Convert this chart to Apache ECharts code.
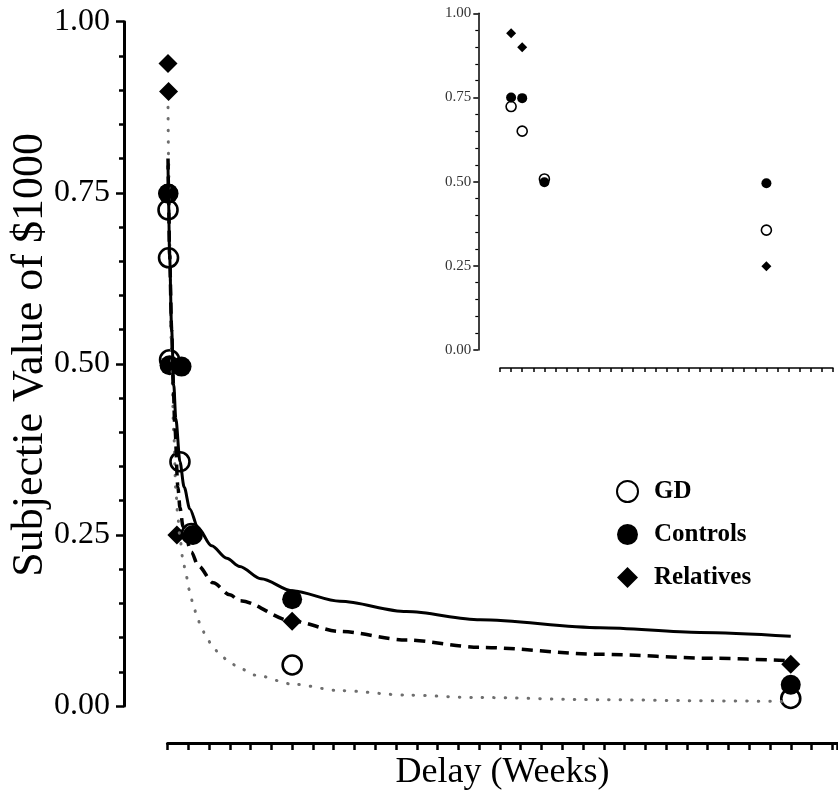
<!DOCTYPE html>
<html lang="en">
<head>
<meta charset="UTF-8">
<title>Subjective value by delay</title>
<script src="https://cdn.jsdelivr.net/npm/echarts/dist/echarts.min.js"></script>
<style>
    html, body { margin: 0; padding: 0; background: #fff; }
    #main { width: 838px; height: 798px; }
</style>
</head>
<body>
<div id="main"></div>
<script type="text/javascript">
    // main panel, delay in weeks
    const gdDelay = [1, 2, 4, 24, 46, 240, 1200];
    const gdValue = [0.725, 0.655, 0.506, 0.357, 0.252, 0.060, 0.011];
    const ctrlDelay = [1, 2, 4, 27, 49, 240, 1200];
    const ctrlValue = [0.749, 0.749, 0.498, 0.496, 0.250, 0.156, 0.031];
    const relDelay = [1, 2, 18, 240, 1200];
    const relValue = [0.939, 0.898, 0.250, 0.124, 0.061];

    // fitted curves
    const solidDelay = [1, 2, 4, 8, 12, 16, 24, 32, 43, 59, 85, 114, 139, 180, 241, 332, 460, 602, 833, 1025, 1200];
    const solidValue = [0.79, 0.74, 0.66, 0.55, 0.47, 0.42, 0.357, 0.32, 0.288, 0.26, 0.234, 0.216, 0.204, 0.186, 0.168, 0.153, 0.138, 0.126, 0.1145, 0.1075, 0.102];
    const dashDelay = [1, 2, 4, 8, 11, 14, 20, 24, 30, 46, 59, 88, 120, 139, 241, 332, 460, 602, 833, 1051, 1200];
    const dashValue = [0.80, 0.75, 0.66, 0.55, 0.47, 0.41, 0.32, 0.29, 0.262, 0.225, 0.205, 0.180, 0.1625, 0.154, 0.124, 0.109, 0.0964, 0.0857, 0.0755, 0.0697, 0.066];
    const dotDelay = [1, 2, 4, 8, 12, 16, 20, 24, 30, 36, 42, 49, 56, 64, 74, 86, 101, 120, 139, 170, 241, 332, 460, 589, 833, 1051, 1200];
    const dotValue = [0.875, 0.80, 0.68, 0.50, 0.40, 0.315, 0.275, 0.245, 0.212, 0.19, 0.17, 0.15, 0.133, 0.117, 0.102, 0.088, 0.075, 0.0635, 0.055, 0.045, 0.032, 0.0225, 0.016, 0.0125, 0.0092, 0.0075, 0.0065];

    // inset panel (short delays)
    const inGdDelay = [1, 2, 4, 24];
    const inGdValue = [0.723, 0.650, 0.508, 0.356];
    const inCtrlDelay = [1, 2, 4, 24];
    const inCtrlValue = [0.750, 0.748, 0.498, 0.495];
    const inRelDelay = [1, 2, 24];
    const inRelValue = [0.941, 0.899, 0.249];

    // extra tick drawn on the main x axis (1 year)
    const extraTicks = [48];

    const serif = 'Liberation Serif';

    function pairs(xs, ys) {
        return xs.map(function (x, i) { return [x, ys[i]]; });
    }

    let chart = echarts.init(document.getElementById('main'));

    let openStyle = {color: '#fff', borderColor: '#000', borderWidth: 2.6, opacity: 1};

    let option = {
        animation: false,
        backgroundColor: '#fff',
        legend: {
            data: ['GD', 'Controls', 'Relatives'],
            orient: 'vertical',
            left: 616,
            top: 479,
            padding: 0,
            itemWidth: 21,
            itemHeight: 21,
            itemGap: 18,
            selectedMode: false,
            textStyle: {
                fontFamily: serif,
                fontWeight: 'bold',
                fontSize: 25,
                color: '#000',
                padding: [0, 0, 0, 11]
            }
        },
        grid: [
            {left: 167.5, right: 0.5, top: 21.7, bottom: 92, outerBoundsMode: 'none'},
            {left: 500, right: 5, top: 13.3, bottom: 448, outerBoundsMode: 'none'}
        ],
        xAxis: [{
            gridIndex: 0,
            type: 'value',
            min: 0,
            max: 1290,
            interval: 40,
            offset: 37,
            axisLine: {onZero: false, lineStyle: {color: '#000', width: 3}},
            axisTick: {length: 7, lineStyle: {color: '#000', width: 2.5}},
            axisLabel: {show: false},
            splitLine: {show: false},
            name: 'Delay (Weeks)',
            nameLocation: 'middle',
            nameGap: 12,
            nameTextStyle: {fontFamily: serif, fontSize: 36, color: '#000'}
        }, {
            gridIndex: 1,
            type: 'value',
            min: 0,
            max: 30,
            interval: 1,
            offset: 18,
            axisLine: {onZero: false, lineStyle: {color: '#000', width: 1.5}},
            axisTick: {length: 4, lineStyle: {color: '#000', width: 1.5}},
            axisLabel: {show: false},
            splitLine: {show: false}
        }, {
            gridIndex: 0,
            type: 'value',
            min: 0,
            max: 1290,
            offset: 37,
            axisLine: {show: false, onZero: false},
            axisTick: {show: true, customValues: extraTicks, length: 7, lineStyle: {color: '#000', width: 2.5}},
            axisLabel: {show: false},
            splitLine: {show: false}
        }],
        yAxis: [{
            gridIndex: 0,
            type: 'value',
            min: 0,
            max: 1,
            interval: 0.25,
            offset: 43.5,
            axisLine: {show: true, onZero: false, lineStyle: {color: '#000', width: 3}},
            axisTick: {show: true, length: 8, lineStyle: {color: '#000', width: 2.5}},
            minorTick: {show: true, splitNumber: 5, length: 5, lineStyle: {color: '#000', width: 2.5}},
            splitLine: {show: false},
            axisLabel: {
                formatter: function (v) { return v.toFixed(2); },
                fontFamily: serif,
                fontSize: 32,
                color: '#000',
                margin: 14
            },
            name: 'Subjectie Value of $1000',
            nameLocation: 'middle',
            nameGap: 72,
            nameMoveOverlap: false,
            nameTextStyle: {fontFamily: serif, fontSize: 44, color: '#000', padding: [0, 0, 0, 18]}
        }, {
            gridIndex: 1,
            type: 'value',
            min: 0,
            max: 1,
            interval: 0.25,
            offset: 21.7,
            axisLine: {show: true, onZero: false, lineStyle: {color: '#000', width: 1.5}},
            axisTick: {show: true, length: 5, lineStyle: {color: '#000', width: 1.5}},
            minorTick: {show: true, splitNumber: 5, length: 3, lineStyle: {color: '#000', width: 1.2}},
            splitLine: {show: false},
            axisLabel: {
                formatter: function (v) { return v.toFixed(2); },
                fontFamily: serif,
                fontSize: 15,
                color: '#333',
                margin: 7
            }
        }],
        series: [
            {
                name: 'GD', type: 'scatter', xAxisIndex: 0, yAxisIndex: 0,
                symbol: 'circle', symbolSize: 19,
                itemStyle: openStyle,
                data: pairs(gdDelay, gdValue)
            },
            {
                name: 'Controls', type: 'scatter', xAxisIndex: 0, yAxisIndex: 0,
                symbol: 'circle', symbolSize: 20,
                itemStyle: {color: '#000', opacity: 1},
                data: pairs(ctrlDelay, ctrlValue)
            },
            {
                name: 'Relatives', type: 'scatter', xAxisIndex: 0, yAxisIndex: 0,
                symbol: 'diamond', symbolSize: 19,
                itemStyle: {color: '#000', opacity: 1},
                data: pairs(relDelay, relValue)
            },
            {
                name: 'fitDotted', type: 'line', xAxisIndex: 0, yAxisIndex: 0,
                showSymbol: false, smooth: 0.3, smoothMonotone: 'x',
                lineStyle: {color: '#6e6e6e', width: 3, type: [0.5, 11], cap: 'round'},
                data: pairs(dotDelay, dotValue)
            },
            {
                name: 'fitDashed', type: 'line', xAxisIndex: 0, yAxisIndex: 0,
                showSymbol: false, smooth: 0.3, smoothMonotone: 'x',
                lineStyle: {color: '#000', width: 3.5, type: [11, 7]},
                data: pairs(dashDelay, dashValue)
            },
            {
                name: 'fitSolid', type: 'line', xAxisIndex: 0, yAxisIndex: 0,
                showSymbol: false, smooth: 0.3, smoothMonotone: 'x',
                lineStyle: {color: '#000', width: 3},
                data: pairs(solidDelay, solidValue)
            },
            // inset
            {
                name: 'GD', type: 'scatter', xAxisIndex: 1, yAxisIndex: 1,
                symbol: 'circle', symbolSize: 10,
                itemStyle: {color: '#fff', borderColor: '#000', borderWidth: 1.6, opacity: 1},
                data: pairs(inGdDelay, inGdValue)
            },
            {
                name: 'Controls', type: 'scatter', xAxisIndex: 1, yAxisIndex: 1,
                symbol: 'circle', symbolSize: 10,
                itemStyle: {color: '#000', opacity: 1},
                data: pairs(inCtrlDelay, inCtrlValue)
            },
            {
                name: 'Relatives', type: 'scatter', xAxisIndex: 1, yAxisIndex: 1,
                symbol: 'diamond', symbolSize: 10,
                itemStyle: {color: '#000', opacity: 1},
                data: pairs(inRelDelay, inRelValue)
            }
        ]
    };

    chart.setOption(option);
</script>
</body>
</html>
